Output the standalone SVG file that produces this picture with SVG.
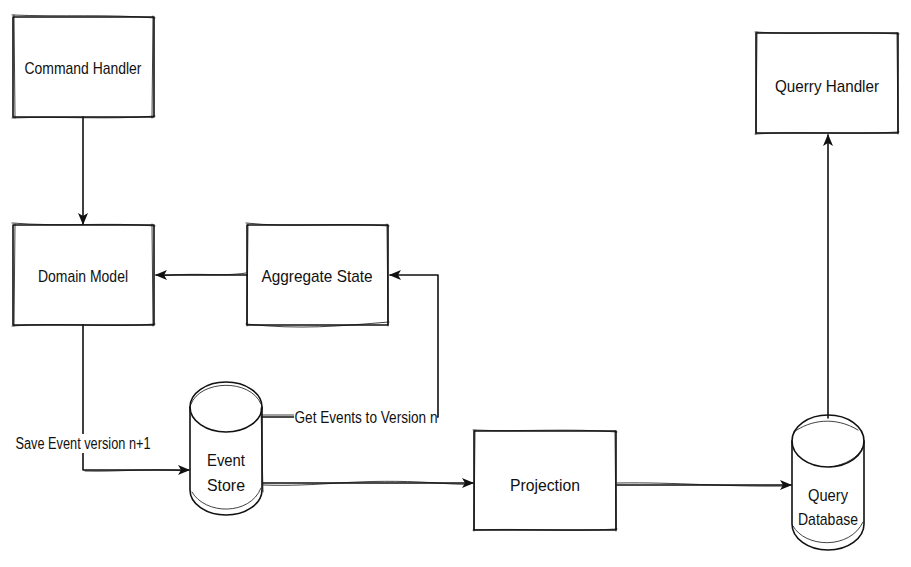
<svg xmlns="http://www.w3.org/2000/svg" width="911" height="567" viewBox="0 0 911 567">
<style>
.s{fill:none;stroke:#111;stroke-width:1.6;stroke-linejoin:round;stroke-linecap:round}
.t{stroke-width:0.8}
.w{fill:#fff;stroke:none}
.lbl{font-family:"Liberation Sans",Arial,sans-serif;font-size:17px;fill:#111;text-anchor:middle;dominant-baseline:central}
.e{font-family:"Liberation Sans",Arial,sans-serif;font-size:16px;fill:#111;text-anchor:middle;dominant-baseline:central}
</style>
<defs>
<marker id="ah" viewBox="0 0 12 12" refX="11" refY="6" markerWidth="12" markerHeight="12" markerUnits="userSpaceOnUse" orient="auto">
<path d="M0,1 L12,6 L0,11 L3,6 Z" fill="#111"/>
</marker>
</defs>
<rect width="911" height="567" fill="#fff"/>
<g id="connectors">
<path class="s" d="M83,117 L83,224" marker-end="url(#ah)"/>
<path class="s" d="M247,275 L156,275" marker-end="url(#ah)"/>
<path class="s t" d="M246,273 C220,277 200,272 160,276"/>
<path class="s" d="M83,325 L83,470 L189,470" marker-end="url(#ah)"/>
<path class="s t" d="M85,471 C120,472 150,468 186,471"/>
<path class="s" d="M262,417 L438,417 L438,275 L390,275" marker-end="url(#ah)"/>
<path class="s t" d="M262,415 L294,415"/>
<path class="s" d="M263,483 L473,483" marker-end="url(#ah)"/>
<path class="s t" d="M263,485 C320,487 350,479 420,482 C440,483 460,485 470,484"/>
<path class="s" d="M617,485 L791,485" marker-end="url(#ah)"/>
<path class="s t" d="M617,483 C680,482 720,487 788,486"/>
<path class="s" d="M828,418 L828,135" marker-end="url(#ah)"/>
<rect class="w" x="14" y="434" width="138" height="19"/>
<text class="e" x="83" y="443" textLength="135" lengthAdjust="spacingAndGlyphs">Save Event version n+1</text>
<rect class="w" x="294" y="408" width="143" height="19"/>
<text class="e" x="366" y="417" textLength="143" lengthAdjust="spacingAndGlyphs">Get Events to Version n</text>
</g>
<g id="command-handler">
<rect class="s" x="13" y="17" width="141" height="100"/>
<path class="s t" d="M12,15 C60,17 110,14 155,18 M12,118 C60,116 110,120 155,116 M14,15 L15,118 M153,16 L152,118"/>
<text class="lbl" x="83" y="68" textLength="117" lengthAdjust="spacingAndGlyphs">Command Handler</text>
</g>
<g id="domain-model">
<rect class="s" x="13" y="225" width="141" height="100"/>
<path class="s t" d="M12,223 C60,227 110,222 155,226 M12,326 C60,322 110,328 155,324 M15,224 L14,326 M152,224 L153,326"/>
<text class="lbl" x="83" y="276" textLength="90" lengthAdjust="spacingAndGlyphs">Domain Model</text>
</g>
<g id="aggregate-state">
<rect class="s" x="247" y="225" width="141" height="100"/>
<path class="s t" d="M246,223 C290,228 340,222 389,226 M246,324 C300,330 340,326 389,322 M248,224 L247,326 M387,224 L388,326"/>
<text class="lbl" x="317" y="276" textLength="111" lengthAdjust="spacingAndGlyphs">Aggregate State</text>
</g>
<g id="event-store">
<path class="s" d="M190,407 L190,490 A36,25 0 0 0 262,490 L262,407"/>
<ellipse class="s" cx="226" cy="407" rx="36" ry="25"/>
<path class="s t" d="M191,404 C200,380 250,378 261,404 M192,492 C205,515 250,516 261,488 M261,408 L263,492"/>
<text class="lbl" x="226" y="460" textLength="38" lengthAdjust="spacingAndGlyphs">Event</text>
<text class="lbl" x="226" y="485" textLength="38" lengthAdjust="spacingAndGlyphs">Store</text>
</g>
<g id="projection">
<rect class="s" x="474" y="431" width="142" height="99"/>
<path class="s t" d="M473,430 C520,432 570,428 617,432 M473,530 C520,528 570,532 617,529 M475,430 L474,531 M615,431 L616,531"/>
<text class="lbl" x="545" y="485" textLength="70" lengthAdjust="spacingAndGlyphs">Projection</text>
</g>
<g id="query-database">
<path class="s" d="M792,441 L792,524 A36,26 0 0 0 864,524 L864,441"/>
<ellipse class="s" cx="828" cy="441" rx="36" ry="26"/>
<path class="s t" d="M794,432 C810,420 835,416 858,430 M830,467 C845,465 858,458 863,447 M793,526 C805,548 850,550 863,522"/>
<text class="lbl" x="828" y="495" textLength="40" lengthAdjust="spacingAndGlyphs">Query</text>
<text class="lbl" x="828" y="519" textLength="60" lengthAdjust="spacingAndGlyphs">Database</text>
</g>
<g id="querry-handler">
<rect class="s" x="756" y="33" width="142" height="100"/>
<path class="s t" d="M755,32 C800,35 850,31 899,34 M755,134 C800,131 850,135 899,132 M757,32 L756,134 M897,33 L898,134"/>
<text class="lbl" x="827" y="86" textLength="104" lengthAdjust="spacingAndGlyphs">Querry Handler</text>
</g>
</svg>
